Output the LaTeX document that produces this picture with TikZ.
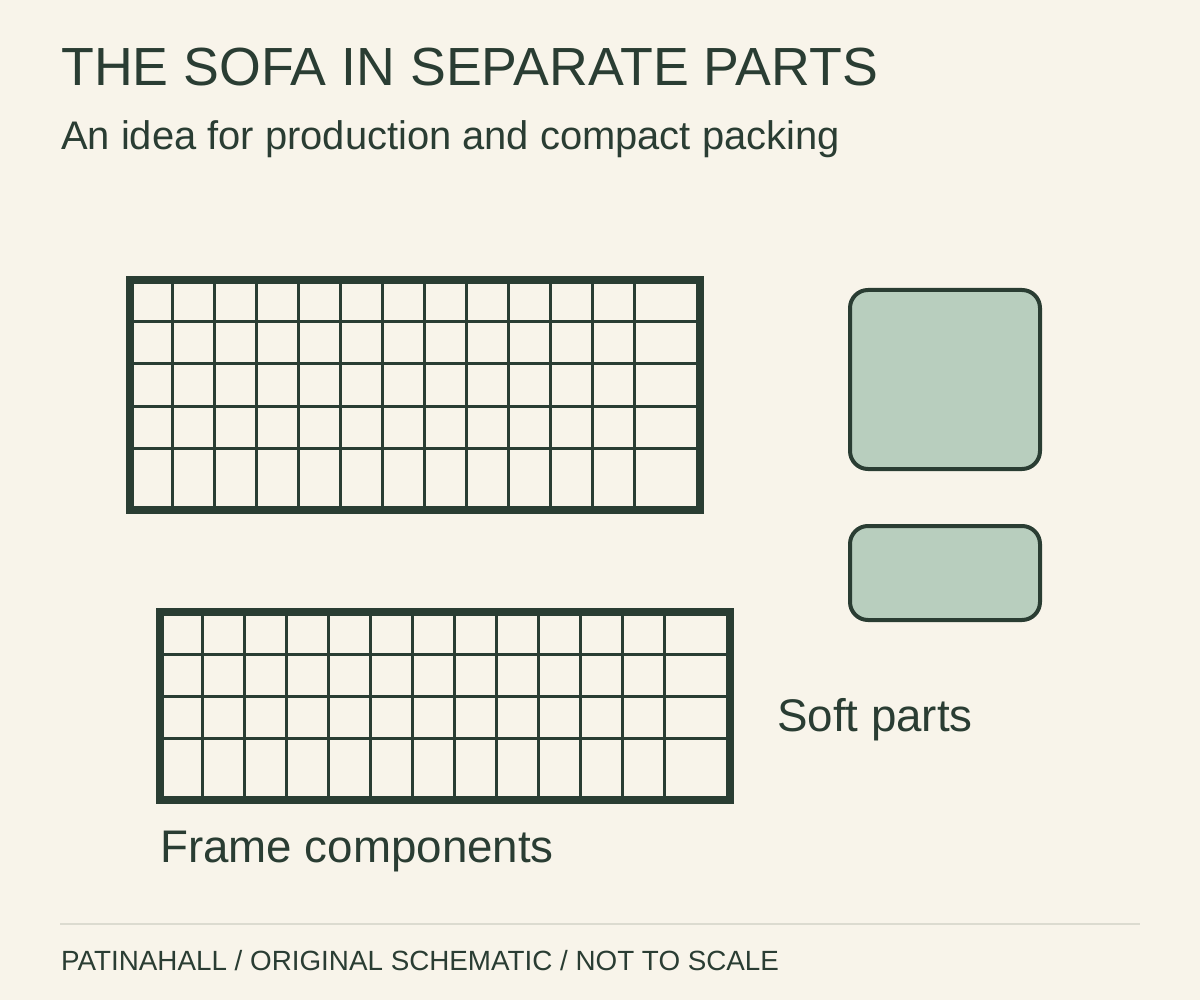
\documentclass[tikz,border=0pt]{standalone}
\usepackage{fontspec}
\setmainfont{Liberation Sans}
\usetikzlibrary{positioning}
\definecolor{paper}{HTML}{F8F4EA}
\definecolor{ink}{HTML}{2A3D33}
\definecolor{sage}{HTML}{B8CEBE}
\definecolor{rule}{HTML}{DCDBD0}
\tikzset{frameline/.style = {ink, line width=3pt},
  frameedge/.style = {ink, line width=8pt},
  softpart/.style = {draw=ink, fill=sage, line width=4pt, rounded corners=18pt},
  label/.style = {ink, anchor=base west, inner sep=0pt}}

\begin{document}
\begin{tikzpicture}[x=1pt, y=-1pt]
\fill [paper] (0,0) rectangle (1200,1000);
\useasboundingbox (0,0) rectangle (1200,1000);
\node [label, font=\fontsize{53.7}{60}\selectfont] (title) at (61,86) {THE SOFA IN SEPARATE PARTS};
\node [label, font=\fontsize{39.9}{46}\selectfont] (subtitle) at (61,150) {An idea for production and compact packing};
\foreach \i in {1,...,12} \draw [frameline] (130+42*\i,280) -- (130+42*\i,510);
\foreach \j in {1,...,4} \draw [frameline] (130,280+42*\j) -- (700,280+42*\j);
\draw [frameedge] (130,280) rectangle (700,510);
\foreach \i in {1,...,12} \draw [frameline] (160+42*\i,612) -- (160+42*\i,800);
\foreach \j in {1,...,3} \draw [frameline] (160,612+42*\j) -- (730,612+42*\j);
\draw [frameedge] (160,612) rectangle (730,800);
\draw [softpart] (850,290) rectangle (1040,469);
\draw [softpart] (850,526) rectangle (1040,620);
\node [label, font=\fontsize{45.7}{52}\selectfont] (soft) at (777,731) {Soft parts};
\node [label, font=\fontsize{45.7}{52}\selectfont] (frame) at (160,862) {Frame components};
\draw [rule, line width=2pt] (60,924) -- (1140,924);
\node [label, font=\fontsize{27.8}{32}\selectfont] (footer) at (61,970) {PATINAHALL / ORIGINAL SCHEMATIC / NOT TO SCALE};
\end{tikzpicture}
\end{document}
